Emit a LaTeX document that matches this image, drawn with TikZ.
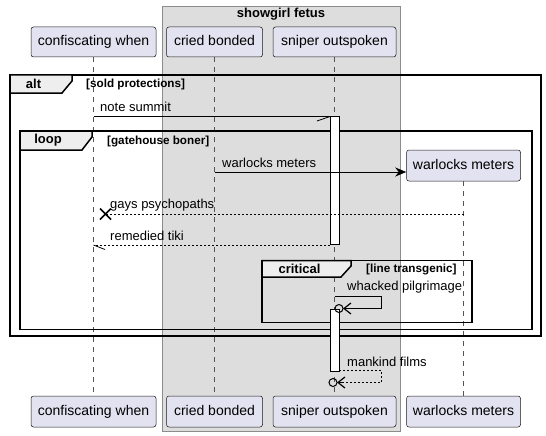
\documentclass[tikz,border=0pt]{standalone}
\usepackage{fontspec}
\setmainfont{Liberation Sans}
\usetikzlibrary{arrows.meta}
\definecolor{partfill}{HTML}{E2E2F0}
\definecolor{partdraw}{HTML}{181818}
\definecolor{grpfill}{HTML}{DDDDDD}
\definecolor{grpdraw}{HTML}{8C8C8C}
\definecolor{tabfill}{HTML}{EEEEEE}
\definecolor{lifecol}{HTML}{555555}
\begin{document}
\begin{tikzpicture}[x=1pt,y=-1pt,
  part/.style={draw=partdraw, fill=partfill, rounded corners=2.5pt, line width=0.5pt,
    font=\fontsize{14}{16}\selectfont, inner sep=0pt, text height=10pt, text depth=3pt},
  lifeline/.style={draw=lifecol, line width=0.5pt, dash pattern=on 5pt off 5pt},
  framebox/.style={draw=black, line width=1.5pt},
  tabbox/.style={draw=black, fill=tabfill, line width=1.5pt},
  tabtxt/.style={font=\bfseries\fontsize{13}{15}\selectfont, inner sep=0pt},
  condtxt/.style={font=\bfseries\fontsize{11.7}{13}\selectfont, inner sep=0pt, anchor=west},
  msgtxt/.style={font=\fontsize{13}{15}\selectfont, inner sep=0pt, anchor=west},
  msg/.style={draw=black, line width=0.8pt},
  dmsg/.style={draw=black, line width=0.8pt, dash pattern=on 2pt off 2pt},
  actbar/.style={draw=black, fill=white, line width=0.8pt},
  barb/.style={draw=black, line width=0.8pt}
]
\useasboundingbox (0,0) rectangle (546,436);
% group box
\draw[fill=grpfill, draw=grpdraw, line width=0.8pt] (162,6) rectangle (400,431);
\node[tabtxt] (grp) at (281,14.5) {showgirl fetus};

% participants
\node[part, minimum width=125pt, minimum height=30pt] (cA) at (93.5,42) {confiscating when};
\node[part, minimum width=96pt, minimum height=30pt] (cB) at (214.5,42) {cried bonded};
\node[part, minimum width=123pt, minimum height=30pt] (cC) at (334.5,42) {sniper outspoken};
\node[part, minimum width=114pt, minimum height=31pt] (cD) at (463.5,165.5) {warlocks meters};
\node[part, minimum width=125pt, minimum height=31pt] (bA) at (93.5,411.5) {confiscating when};
\node[part, minimum width=96pt, minimum height=31pt] (bB) at (214.5,411.5) {cried bonded};
\node[part, minimum width=123pt, minimum height=31pt] (bC) at (334.5,411.5) {sniper outspoken};
\node[part, minimum width=114pt, minimum height=31pt] (bD) at (463.5,411.5) {warlocks meters};

% lifelines
\draw[lifeline] (cA.south) -- (bA.north);
\draw[lifeline] (cB.south) -- (bB.north);
\draw[lifeline] (cC.south) -- (bC.north);
\draw[lifeline] (cD.south) -- (bD.north);

% alt frame
\draw[framebox] (10,75) rectangle (541,336);
\draw[tabbox] (10,75) -- (72,75) -- (72,81) -- (62,93) -- (10,93) -- cycle;
\node[tabtxt] (altl) at (33.5,84) {alt};
\node[condtxt] (altc) at (86,84.5) {[sold protections]};

% loop frame
\draw[framebox] (20,131) rectangle (532,329.5);
\draw[tabbox] (20,131) -- (92,131) -- (92,137) -- (82,150) -- (20,150) -- cycle;
\node[tabtxt] (loopl) at (48,140.5) {loop};
\node[condtxt] (loopc) at (107,141) {[gatehouse boner]};

% critical frame
\draw[framebox] (262,260.5) rectangle (472,322.5);
\draw[tabbox] (262,260.5) -- (351,260.5) -- (351,266) -- (341,277) -- (262,277) -- cycle;
\node[tabtxt] (critl) at (299.5,269) {critical};
\node[condtxt] (critc) at (366,269.5) {[line transgenic]};

% activation bars
\draw[actbar] (330,116.5) rectangle (339,244.5);
\draw[actbar] (330,309) rectangle (339,371);

% message 1: note summit
\coordinate (m1a) at (93.5,116.5);
\coordinate (m1b) at (330,116.5);
\coordinate (m1c) at (317,121);
\draw[msg] (m1a) -- (m1b);
\draw[barb] (m1c) -- (m1b);
\node[msgtxt] (m1t) at (100,107) {note summit};

% message 2: warlocks meters (create)
\coordinate (m2a) at (214.5,172);
\draw[msg, -{Stealth[length=11pt,width=9pt,inset=3.5pt]}] (m2a) -- (cD.west |- m2a);
\node[msgtxt] (m2t) at (222,163) {warlocks meters};

% message 3: gays psychopaths (lost, x)
\coordinate (m3a) at (463.5,214);
\coordinate (m3x) at (105.5,214);
\draw[dmsg] (m3a) -- (m3x);
\draw[line width=1.5pt] ([shift={(-5.5,-5.5)}]m3x) -- ([shift={(5.5,5.5)}]m3x)
  ([shift={(-5.5,5.5)}]m3x) -- ([shift={(5.5,-5.5)}]m3x);
\node[msgtxt] (m3t) at (110,205.5) {gays psychopaths};

% message 4: remedied tiki
\coordinate (m4a) at (330,245);
\coordinate (m4b) at (93.5,245);
\coordinate (m4c) at (105,249.5);
\draw[dmsg] (m4a) -- (m4b);
\draw[barb] (m4b) -- (m4c);
\node[msgtxt] (m4t) at (110,236) {remedied tiki};

% message 5: whacked pilgrimage (self)
\coordinate (m5a) at (334.5,296);
\coordinate (m5o) at (339,308.5);
\draw[msg, -{Straight Barb[length=7pt,width=11pt,line width=1.2pt]}] (m5a) -- (381.5,296) -- (381.5,308.5) -- ([xshift=4pt]m5o);
\draw[line width=1pt] (m5o) circle[radius=4pt];
\node[msgtxt] (m5t) at (347,287) {whacked pilgrimage};

% message 6: mankind films (self, dashed)
\coordinate (m6a) at (339,370.5);
\coordinate (m6o) at (333,382.5);
\draw[dmsg] (m6a) -- (381.5,370.5) -- (381.5,382.5) -- ([xshift=10pt]m6o);
\draw[msg, -{Straight Barb[length=7pt,width=11pt,line width=1.2pt]}] ([xshift=10pt]m6o) -- ([xshift=4pt]m6o);
\draw[line width=1pt] (m6o) circle[radius=4pt];
\node[msgtxt] (m6t) at (347,361.5) {mankind films};
\end{tikzpicture}
\end{document}
